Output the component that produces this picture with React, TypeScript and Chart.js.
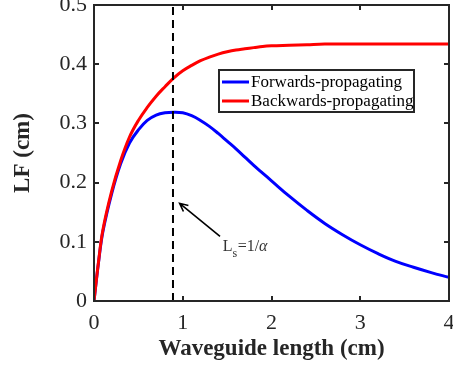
import React, { useEffect, useRef } from "react";
import { Chart, registerables } from "chart.js";

Chart.register(...registerables);

// ---- data ----
const lengths = [0, 0.05, 0.1, 0.2, 0.3, 0.4, 0.5, 0.6, 0.7, 0.8, 0.9, 1.0, 1.1, 1.2, 1.3, 1.4, 1.5, 1.6, 1.7, 1.8, 1.9, 2.0, 2.2, 2.4, 2.6, 2.8, 3.0, 3.2, 3.4, 3.6, 3.8, 4.0];
const forwardLF = [0, 0.064, 0.117, 0.182, 0.232, 0.267, 0.289, 0.305, 0.314, 0.318, 0.319, 0.318, 0.313, 0.305, 0.295, 0.283, 0.27, 0.257, 0.243, 0.229, 0.216, 0.203, 0.177, 0.153, 0.131, 0.112, 0.095, 0.08, 0.067, 0.057, 0.048, 0.04];
const backwardLF = [0, 0.065, 0.12, 0.186, 0.237, 0.277, 0.305, 0.327, 0.346, 0.362, 0.377, 0.389, 0.398, 0.406, 0.412, 0.417, 0.421, 0.424, 0.426, 0.428, 0.43, 0.431, 0.432, 0.433, 0.434, 0.434, 0.434, 0.434, 0.434, 0.434, 0.434, 0.434];
const seriesLabels = ["Forwards-propagating", "Backwards-propagating"];
const seriesColors = ["#0000ff", "#ff0000"];
const xTicks = [0, 1, 2, 3, 4];
const yTicks = [0, 0.1, 0.2, 0.3, 0.4, 0.5];
const lsValue = 0.89;
const arrowTail = { x: 1.42, y: 0.109 };
const arrowTip = { x: 0.965, y: 0.165 };
const labelPos = { x: 1.45, y: 0.084 };

const SERIF = "'Liberation Serif', 'Times New Roman', serif";
const AXIS_COLOR = "#262626";

const decorPlugin = {
  id: "decor",
  afterDatasetsDraw(chart: any) {
    const { ctx, chartArea, scales } = chart;
    const xs = scales.x;
    const ys = scales.y;
    const { left, right, top, bottom } = chartArea;
    ctx.save();
    // frame
    ctx.strokeStyle = AXIS_COLOR;
    ctx.lineWidth = 2;
    ctx.strokeRect(left, top, right - left, bottom - top);
    // inward ticks
    const tl = 5;
    ctx.beginPath();
    xTicks.forEach((v) => {
      const px = Math.round(xs.getPixelForValue(v));
      ctx.moveTo(px, bottom);
      ctx.lineTo(px, bottom - tl);
      ctx.moveTo(px, top);
      ctx.lineTo(px, top + tl);
    });
    yTicks.forEach((v) => {
      const py = Math.round(ys.getPixelForValue(v));
      ctx.moveTo(left, py);
      ctx.lineTo(left + tl, py);
      ctx.moveTo(right, py);
      ctx.lineTo(right - tl, py);
    });
    ctx.stroke();

    // arrow
    const tx = xs.getPixelForValue(arrowTail.x);
    const ty = ys.getPixelForValue(arrowTail.y);
    const hx = xs.getPixelForValue(arrowTip.x);
    const hy = ys.getPixelForValue(arrowTip.y);
    ctx.strokeStyle = "#000";
    ctx.lineWidth = 1.6;
    ctx.beginPath();
    ctx.moveTo(tx, ty);
    ctx.lineTo(hx, hy);
    const ang = Math.atan2(hy - ty, hx - tx);
    const ah = 9;
    ctx.moveTo(hx - ah * Math.cos(ang - 0.45), hy - ah * Math.sin(ang - 0.45));
    ctx.lineTo(hx, hy);
    ctx.lineTo(hx - ah * Math.cos(ang + 0.45), hy - ah * Math.sin(ang + 0.45));
    ctx.stroke();

    // label Ls=1/α
    let lx = xs.getPixelForValue(labelPos.x);
    const ly = ys.getPixelForValue(labelPos.y);
    ctx.fillStyle = "#333";
    ctx.textBaseline = "alphabetic";
    ctx.textAlign = "left";
    ctx.font = `16px ${SERIF}`;
    ctx.fillText("L", lx, ly);
    lx += ctx.measureText("L").width;
    ctx.font = `12px ${SERIF}`;
    ctx.fillText("s", lx, ly + 6);
    lx += ctx.measureText("s").width + 0.5;
    ctx.font = `16px ${SERIF}`;
    ctx.fillText("=1/", lx, ly);
    lx += ctx.measureText("=1/").width;
    ctx.font = `italic 16px ${SERIF}`;
    ctx.fillText("\u03b1", lx, ly);

    // legend
    const bx = 219, by = 70, bw = 195, bh = 42;
    ctx.fillStyle = "#fff";
    ctx.fillRect(bx, by, bw, bh);
    ctx.strokeStyle = AXIS_COLOR;
    ctx.lineWidth = 2;
    ctx.strokeRect(bx, by, bw, bh);
    ctx.font = `17px ${SERIF}`;
    ctx.textBaseline = "middle";
    seriesLabels.forEach((lab, i) => {
      const cy = by + 12 + i * 19;
      ctx.strokeStyle = seriesColors[i];
      ctx.lineWidth = 3;
      ctx.beginPath();
      ctx.moveTo(bx + 3, cy);
      ctx.lineTo(bx + 30, cy);
      ctx.stroke();
      ctx.fillStyle = "#000";
      ctx.fillText(lab, bx + 32, cy + 1);
    });
    ctx.restore();
  },
};

export default function App() {
  const ref = useRef<HTMLCanvasElement | null>(null);
  useEffect(() => {
    if (!ref.current) return;
    const chart = new Chart(ref.current, {
      type: "line",
      data: {
        datasets: [
          {
            label: seriesLabels[0],
            data: lengths.map((x, i) => ({ x, y: forwardLF[i] })),
            borderColor: seriesColors[0],
            borderWidth: 3,
            pointRadius: 0,
            tension: 0.4,
            fill: false,
            order: 2,
          },
          {
            label: seriesLabels[1],
            data: lengths.map((x, i) => ({ x, y: backwardLF[i] })),
            borderColor: seriesColors[1],
            borderWidth: 3,
            pointRadius: 0,
            tension: 0.4,
            fill: false,
            order: 1,
          },
          {
            label: "Ls",
            data: [
              { x: lsValue, y: 0 },
              { x: lsValue, y: 0.5 },
            ],
            borderColor: "#000",
            borderWidth: 2,
            borderDash: [8, 5],
            pointRadius: 0,
            fill: false,
            order: 0,
          },
        ],
      },
      options: {
        animation: false,
        responsive: false,
        devicePixelRatio: 1,
        layout: { padding: { left: 0, right: 4, top: 5, bottom: 0 } },
        plugins: { legend: { display: false }, tooltip: { enabled: false } },
        scales: {
          x: {
            type: "linear",
            min: 0,
            max: 4,
            afterBuildTicks: (s: any) => {
              s.ticks = xTicks.map((v) => ({ value: v }));
            },
            afterFit: (s: any) => {
              s.height = 68;
              s.paddingLeft = 0;
              s.paddingRight = 0;
            },
            grid: { display: false, drawTicks: false },
            border: { display: false },
            ticks: {
              color: AXIS_COLOR,
              padding: 9,
              font: { family: SERIF, size: 22 },
              maxRotation: 0,
            },
            title: {
              display: true,
              text: "Waveguide length (cm)",
              color: AXIS_COLOR,
              font: { family: SERIF, size: 23, weight: "bold" },
              padding: { top: 0, bottom: 6 },
            },
          },
          y: {
            type: "linear",
            min: 0,
            max: 0.5,
            afterBuildTicks: (s: any) => {
              s.ticks = yTicks.map((v) => ({ value: v }));
            },
            afterFit: (s: any) => {
              s.width = 94;
              s.paddingTop = 0;
              s.paddingBottom = 0;
            },
            grid: { display: false, drawTicks: false },
            border: { display: false },
            ticks: {
              color: AXIS_COLOR,
              padding: 7,
              font: { family: SERIF, size: 22 },
              callback: (v: any) => String(Math.round(Number(v) * 10) / 10),
            },
            title: {
              display: true,
              text: "LF (cm)",
              color: AXIS_COLOR,
              font: { family: SERIF, size: 23, weight: "bold" },
              padding: { top: 9, bottom: 0 },
            },
          },
        },
      },
      plugins: [decorPlugin],
    } as any);
    return () => chart.destroy();
  }, []);
  return (
    <div style={{ position: "absolute", left: 0, top: 0, width: 453, height: 369, background: "#fff" }}>
      <canvas ref={ref} width={453} height={369} style={{ display: "block", width: 453, height: 369 }} />
    </div>
  );
}
